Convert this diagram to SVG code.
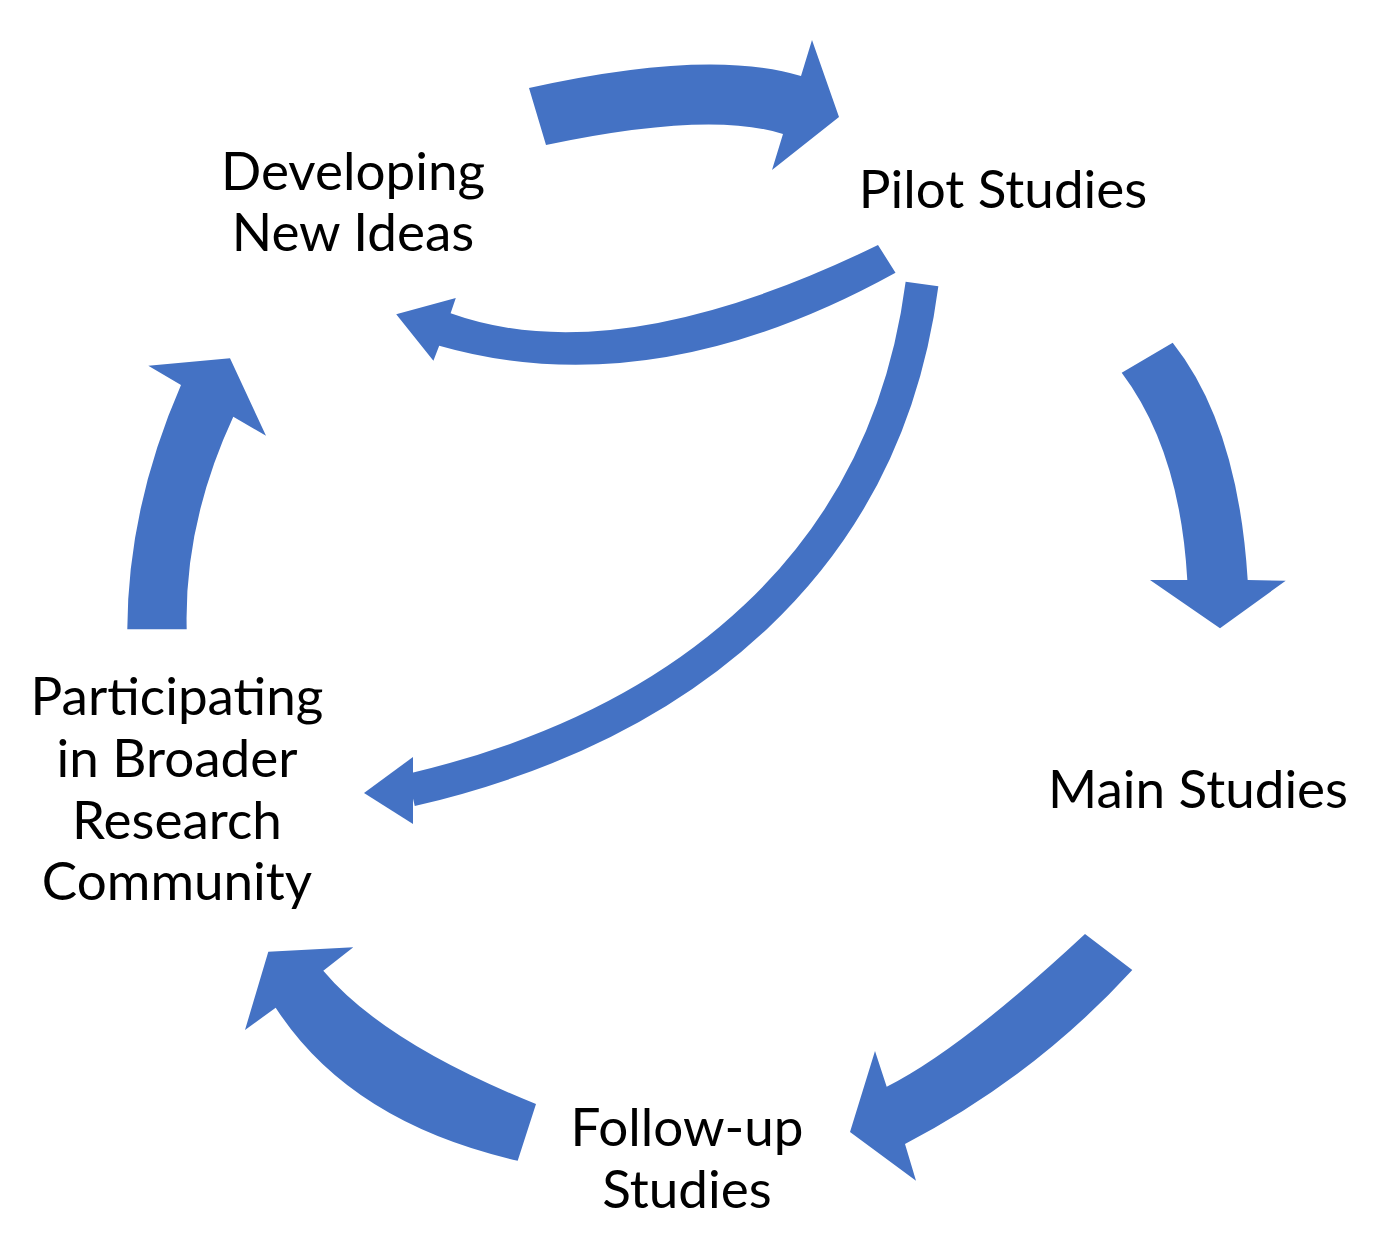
<svg xmlns="http://www.w3.org/2000/svg" width="1378" height="1240" viewBox="0 0 1378 1240">
<style>
.arrow{fill:#4472C4;stroke:none}
.thin{fill:none;stroke:#4472C4;stroke-width:33;stroke-linecap:butt}
.label{font-family:Lato,"Liberation Sans",sans-serif;font-size:53px;fill:#000;text-anchor:middle}
</style>
<rect width="1378" height="1240" fill="#fff"/>
<g id="connectors">
<path id="c-dev-pilot" class="arrow" d="M529,88 Q709,48 801,76 L812,40 L839,117 L772,170 L783,134 Q709.5,110.5 546,145 Z"/>
<path id="c-pilot-main" class="arrow" d="M1172.7,342.7 Q1238,425 1247.7,580 L1285.7,580.7 L1220,628.3 L1150,580 L1187.3,580 Q1180,450 1121.7,372.7 Z"/>
<path id="c-main-follow" class="arrow" d="M1085,934 L1132.3,970 Q1034.75,1076.4 905,1144 L916,1180.7 L850,1132 L875,1051 L886.7,1086.7 Q960.75,1049.65 1085,934 Z"/>
<path id="c-follow-part" class="arrow" d="M517.7,1160.7 L536,1104 Q383.75,1042.65 323.3,970.7 L353.3,947.3 L268.3,951.7 L245,1030 L275.7,1007.7 Q349.9,1122.4 517.7,1160.7 Z"/>
<path id="c-part-dev" class="arrow" d="M127.3,629.3 L186.7,629.3 Q184,523 233.3,416.7 L266,435.7 L230,358.3 L148.3,365.7 L181,385 Q127.85,506.85 127.3,629.3 Z"/>
<path id="c-pilot-dev" class="arrow" d="M878,245 Q616,372.8 450.6,313.3 L455.8,298 L396.2,314.3 L433.4,360.7 L439.2,345.7 Q652.6,406.8 895.5,272.7 Z"/>
<g id="c-pilot-part">
<path class="thin" d="M922,284 C886,561 685,726 411,790"/>
<path class="arrow" d="M413,757 L364,793 L413,824 Z"/>
</g>
</g>
<g id="node-dev"><text class="label" x="353" y="190">Developing</text><text class="label" x="353" y="251">New Ideas</text></g>
<g id="node-pilot"><text class="label" x="1003" y="208">Pilot Studies</text></g>
<g id="node-main"><text class="label" x="1198" y="808">Main Studies</text></g>
<g id="node-follow"><text class="label" x="687" y="1146">Follow-up</text><text class="label" x="687" y="1208">Studies</text></g>
<g id="node-part"><text class="label" x="177" y="715">Participating</text><text class="label" x="177" y="777">in Broader</text><text class="label" x="177" y="839">Research</text><text class="label" x="177" y="900">Community</text></g>
</svg>
